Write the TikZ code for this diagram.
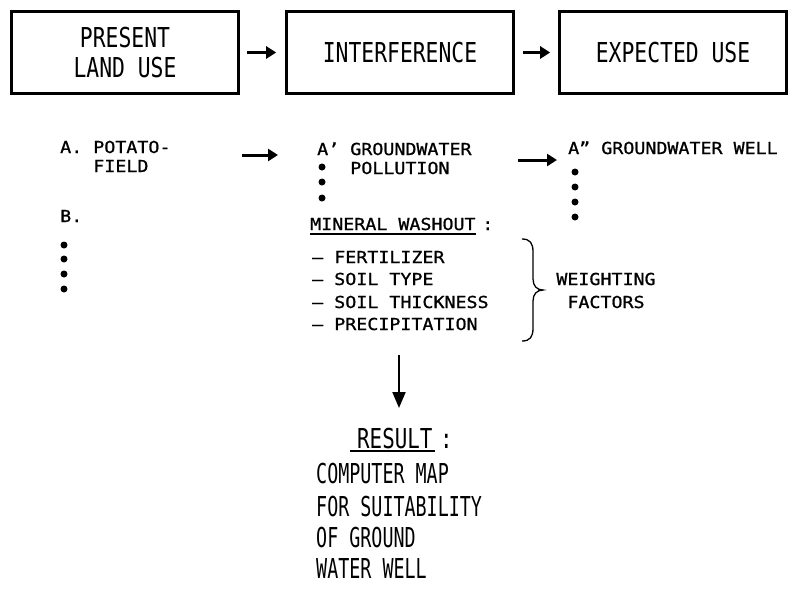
\documentclass[tikz,border=0pt]{standalone}
\usepackage{fontspec}
\setmainfont{Liberation Sans}
\newfontfamily\boxfont[FakeStretch=0.78]{DejaVu Sans Mono}
\newfontfamily\resfont[FakeStretch=0.67]{DejaVu Sans Mono}
\newfontfamily\resbfont[FakeStretch=0.76]{DejaVu Sans Mono}
\newfontfamily\monofont[FakeStretch=1.11,FakeBold=1]{DejaVu Sans Mono}
\usetikzlibrary{arrows.meta}
\begin{document}
\begin{tikzpicture}[x=1pt,y=-1pt,
  box/.style={draw, line width=2.6pt, minimum width=227pt, minimum height=82pt,
    inner sep=0pt, align=center, font=\boxfont\fontsize{27.4}{31}\selectfont},
  mono/.style={inner sep=0pt, anchor=base west, font=\monofont\fontsize{16.5}{19}\selectfont},
  res/.style={inner sep=0pt, anchor=base west, font=\resfont\fontsize{27.4}{31}\selectfont},
  resb/.style={inner sep=0pt, anchor=base west, font=\resbfont\fontsize{27.4}{31}\selectfont},
  arr/.style={line width=3pt, -{Triangle[length=10pt,width=12pt]}},
  varr/.style={line width=2pt, -{Triangle[length=16pt,width=13pt]}},
  dot/.style={circle, fill=black, inner sep=0pt, minimum size=7pt},
  uline/.style={line width=1.3pt},
  brace/.style={line width=1.3pt}]
\useasboundingbox (0,0) rectangle (791,589);

% top boxes
\node[box] (b1) at (125,52.5) {PRESENT\\[-1pt]LAND USE};
\node[box] (b2) at (400,52.5) {INTERFERENCE};
\node[box] (b3) at (673,52.5) {EXPECTED USE};
\draw[arr] ([xshift=7pt]b1.east) -- ([xshift=-9pt]b2.west);
\draw[arr] ([xshift=8pt]b2.east) -- ([xshift=-8pt]b3.west);

% column A
\node[mono] (a1) at (60,153) {A. POTATO-};
\node[mono] (a2) at (60,172) {\phantom{A. }FIELD};
\node[mono] (b) at (60,222) {B.};
\foreach \y [count=\i] in {245,259,274,289}
  \node[dot] (bd\i) at (64,\y) {};

% column A'
\coordinate (m1s) at (242,155);
\coordinate (m1e) at (278,155);
\draw[arr] (m1s) -- (m1e);
\node[mono] (ap1) at (317,155) {A’ GROUNDWATER};
\node[mono] (ap2) at (317,174) {\phantom{A’ }POLLUTION};
\foreach \y [count=\i] in {167,182,198}
  \node[dot] (apd\i) at (322,\y) {};

% column A''
\coordinate (m2s) at (518,160);
\coordinate (m2e) at (557,160);
\draw[arr] (m2s) -- (m2e);
\node[mono] (app) at (568,154) {A” GROUNDWATER WELL};
\foreach \y [count=\i] in {172,187,202,217}
  \node[dot] (appd\i) at (575,\y) {};

% mineral washout
\node[mono] (mw) at (310,230) {MINERAL WASHOUT};
\node[mono] (mwc) at (482,230) {:};
\draw[uline] ([yshift=-4pt]mw.base west) -- ([yshift=-4pt]mw.base east);
\node[mono] (l1) at (312,263) {— FERTILIZER};
\node[mono] (l2) at (312,285) {— SOIL TYPE};
\node[mono] (l3) at (312,308) {— SOIL THICKNESS};
\node[mono] (l4) at (312,330) {— PRECIPITATION};

% brace
\draw[brace] (522,239) .. controls (530,239) and (533,243) .. (533,252)
  -- (533,279) .. controls (533,286) and (537,290) .. (543,290)
  .. controls (537,290) and (533,294) .. (533,301)
  -- (533,328) .. controls (533,337) and (530,341) .. (522,341);
\node[mono, anchor=base] (w1) at (606,285) {WEIGHTING};
\node[mono, anchor=base] (w2) at (606,308) {FACTORS};

% result
\coordinate (vs) at (399,355);
\coordinate (ve) at (399,408);
\draw[varr] (vs) -- (ve);
\node[resb] (r) at (357,448) {RESULT};
\node[resb] (rc) at (440,448) {:};
\draw[uline] ([xshift=-7pt,yshift=-3pt]r.base west) -- ([xshift=2pt,yshift=-3pt]r.base east);
\node[res] (c1) at (316,483) {COMPUTER MAP};
\node[res] (c2) at (316,516) {FOR SUITABILITY};
\node[res] (c3) at (316,547) {OF GROUND};
\node[res] (c4) at (316,578) {WATER WELL};
\end{tikzpicture}
\end{document}
